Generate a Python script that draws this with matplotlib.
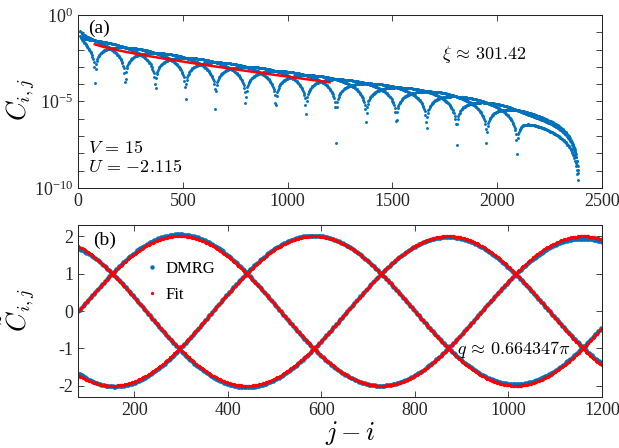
import numpy as np
import matplotlib
matplotlib.use("Agg")
import matplotlib.pyplot as plt
from matplotlib.ticker import FixedLocator, FixedFormatter, NullFormatter

plt.rcParams.update({
    "font.family": ["Liberation Serif", "DejaVu Serif"],
    "mathtext.fontset": "cm",
    "axes.unicode_minus": False,
    "xtick.direction": "in",
    "ytick.direction": "in",
    "xtick.top": True,
    "ytick.right": True,
    "axes.edgecolor": "#262626",
    "axes.linewidth": 0.75,
    "xtick.color": "#262626",
    "ytick.color": "#262626",
})

# Fit parameters printed on the panels
xi = 301.42                # correlation length
q_over_pi = 0.664347       # ordering wave vector in units of pi
fit_amplitude = 2.0
fit_phase_over_pi = 0.6889
prefactor = 0.238
power = 0.5

# Deviations of the DMRG correlator from the fit form
amp_drift = [1.05, -7.0e-5]            # amplitude a0 + a1*r
short_range = [0.24, 73.0]             # short-distance suppression depth and range
edge_decay = [0.5, 1.155, 1700.0, 2400.0]  # strength, exponent, onset, chain end (log10)
phase_lock = [2070.0, 58.0]            # onset and width of boundary phase pinning

r_full = np.arange(10, 2388)
r_fit = np.arange(80, 1201)

top_xticks = [0, 500, 1000, 1500, 2000, 2500]
top_yticks = [1e-10, 1e-5, 1e0]
top_yticklabels = [r"$\mathregular{10^{-10}}$", r"$\mathregular{10^{-5}}$",
                   r"$\mathregular{10^{0}}$"]
bot_xticks = [200, 400, 600, 800, 1000, 1200]
bot_yticks = [-2, -1, 0, 1, 2]

q = q_over_pi * np.pi
phi = fit_phase_over_pi * np.pi
delta = q - 2 * np.pi / 3


def envelope(r):
    return prefactor * r ** (-power) * np.exp(-r / xi)


def fit_osc(r):
    return fit_amplitude * np.cos(q * r + phi)


def dmrg_osc(r):
    r0, s = phase_lock
    r_eff = np.where(r > r0, r0 + s * np.tanh((r - r0) / s), r)
    g = (amp_drift[0] + amp_drift[1] * r) * (1 - short_range[0] * np.exp(-r / short_range[1]))
    return fit_amplitude * g * np.cos(2 * np.pi / 3 * r + delta * r_eff + phi)


def boundary(r):
    a, m, r0, L = edge_decay
    x = np.clip((r - r0) / (L - r0), 0.0, 0.999)
    return 10.0 ** (-a * x ** m / np.sqrt(1 - x))


corr = np.abs(envelope(r_full) * dmrg_osc(r_full) * boundary(r_full))

blue = "#0072BD"
red = "#FF0000"

fig = plt.figure(figsize=(6.19, 4.48), dpi=100)
ax1 = fig.add_axes([0.126, 0.5804, 0.8465, 0.3861])
ax2 = fig.add_axes([0.126, 0.1138, 0.8465, 0.3840])

# (a) correlation function on a log scale
ax1.plot(r_full, corr, "o", ms=2.1, mew=0, color=blue)
ax1.plot(r_fit, envelope(r_fit), "-", lw=1.8, color=red)
ax1.set_yscale("log")
ax1.set_xlim(0, 2500)
ax1.set_ylim(1e-10, 1e0)
ax1.set_xticks(top_xticks)
ax1.yaxis.set_major_locator(FixedLocator(top_yticks))
ax1.yaxis.set_major_formatter(FixedFormatter(top_yticklabels))
ax1.yaxis.set_minor_locator(FixedLocator([10.0 ** k for k in range(-9, 0) if k != -5]))
ax1.yaxis.set_minor_formatter(NullFormatter())
ax1.tick_params(which="both", length=4, width=0.6, labelsize=13)
ax1.set_ylabel(r"$C_{i,j}$", fontsize=19)
ax1.yaxis.set_label_coords(-0.078, 0.51)
ax1.text(0.019, 0.922, "(a)", transform=ax1.transAxes, fontsize=14, va="center")
ax1.text(0.694, 0.772, r"$\xi\,\approx\,301.42$", transform=ax1.transAxes, fontsize=13, va="center")
ax1.text(0.019, 0.229, r"$V\,=\,15$", transform=ax1.transAxes, fontsize=13, va="center")
ax1.text(0.019, 0.121, r"$U\,=\,{-}2.115$", transform=ax1.transAxes, fontsize=13, va="center")

# (b) normalised correlator and the cosine fit
ax2.plot(r_fit, dmrg_osc(r_fit), "o", ms=3.2, mew=0, color=blue, label="DMRG")
ax2.plot(r_fit, fit_osc(r_fit), "o", ms=2.4, mew=0, color=red, label="Fit")
ax2.set_xlim(80, 1200)
ax2.set_ylim(-2.3, 2.3)
ax2.set_xticks(bot_xticks)
ax2.set_yticks(bot_yticks)
ax2.tick_params(which="both", length=4, width=0.6, labelsize=13)
ax2.set_ylabel(r"$\tilde{C}_{i,j}$", fontsize=19)
ax2.yaxis.set_label_coords(-0.078, 0.506)
ax2.set_xlabel(r"$j-i$", fontsize=19)
ax2.xaxis.set_label_coords(0.519, -0.13)
ax2.text(0.029, 0.913, "(b)", transform=ax2.transAxes, fontsize=14, va="center")
ax2.text(0.723, 0.279, r"$q\,\approx\,0.664347\pi$", transform=ax2.transAxes, fontsize=13, va="center")
ax2.legend(loc="upper left", bbox_to_anchor=(0.11, 0.86), frameon=False,
           handlelength=0.6, handletextpad=0.5, labelspacing=0.6,
           markerscale=1.0, fontsize=12, borderpad=0.2)

fig.savefig("out.png", dpi=100)
